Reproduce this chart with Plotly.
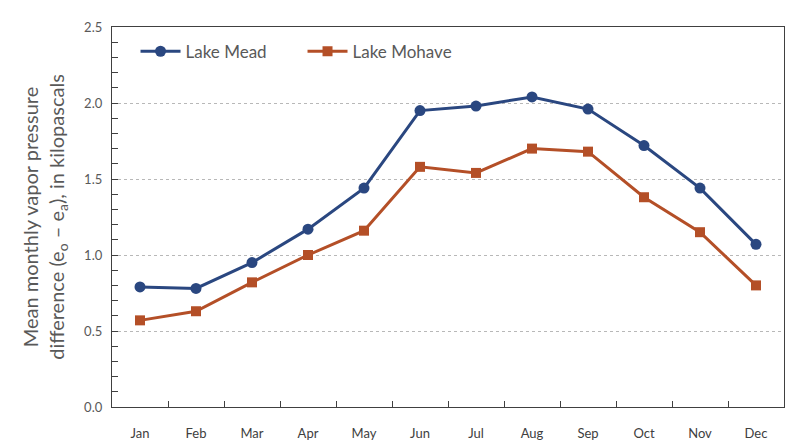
import plotly.graph_objects as go

months = ["Jan", "Feb", "Mar", "Apr", "May", "Jun", "Jul", "Aug", "Sep", "Oct", "Nov", "Dec"]
lake_mead = [0.79, 0.78, 0.95, 1.17, 1.44, 1.95, 1.98, 2.04, 1.96, 1.72, 1.44, 1.07]
lake_mohave = [0.57, 0.63, 0.82, 1.00, 1.16, 1.58, 1.54, 1.70, 1.68, 1.38, 1.15, 0.80]

blue = "#2a4780"
orange = "#b44f27"
gray = "#595959"
font = "Lato, 'Open Sans', sans-serif"

fig = go.Figure()
fig.add_trace(go.Scatter(x=months, y=lake_mead, name="Lake Mead", mode="lines+markers",
                         line=dict(color=blue, width=3),
                         marker=dict(symbol="circle", size=11, color=blue)))
fig.add_trace(go.Scatter(x=months, y=lake_mohave, name="Lake Mohave", mode="lines+markers",
                         line=dict(color=orange, width=3),
                         marker=dict(symbol="square", size=10, color=orange)))

fig.update_layout(
    width=800, height=446,
    margin=dict(l=112, r=16, t=27, b=39),
    paper_bgcolor="white", plot_bgcolor="white",
    font=dict(family=font, color=gray),
    showlegend=True,
    legend=dict(orientation="h", x=0.035, y=0.935, xanchor="left", yanchor="middle",
                font=dict(size=17, color=gray), bgcolor="rgba(0,0,0,0)",
                itemwidth=40, entrywidth=112),
    xaxis=dict(type="category", tickson="boundaries", ticks="inside", ticklen=6,
               tickcolor="#404040", showline=True, linecolor="#404040", linewidth=1.3,
               mirror=True, showgrid=False, tickfont=dict(size=13, color="#404040"),
               ticklabelstandoff=14, range=[-0.5, 11.5], automargin=False),
    yaxis=dict(range=[0, 2.5], dtick=0.5, tickformat=".1f", ticks="inside", ticklen=6,
               tickcolor="#404040", showline=True, linecolor="#404040", linewidth=1.3,
               mirror=True, showgrid=True, gridcolor="#b8b8b8", griddash="dot", gridwidth=1,
               zeroline=False, tickfont=dict(size=13, color=gray), ticklabelstandoff=6,
               automargin=False,
               minor=dict(dtick=0.1, ticks="inside", ticklen=6, tickcolor="#404040", showgrid=False),
               title=dict(text="Mean monthly vapor pressure<br>difference (e<sub>o</sub> – e<sub>a</sub>), in kilopascals",
                          font=dict(size=20, color=gray), standoff=14)),
)

fig.write_html("out.html")
